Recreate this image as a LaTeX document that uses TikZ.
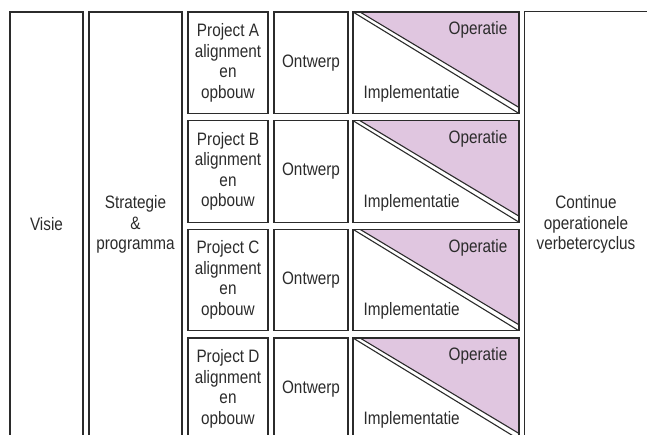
\documentclass[tikz,border=0pt]{standalone}
\usepackage{fontspec}
\setmainfont{Liberation Sans}[FakeStretch=0.85]
\usepackage{xcolor}
\definecolor{lijn}{HTML}{2B2B2B}
\definecolor{lila}{RGB}{224,198,224}
\newcommand{\celfont}{\fontsize{18}{20.5}\selectfont}

\begin{document}
\begin{tikzpicture}[x=1pt, y=-1pt,
    cel/.style={draw=lijn, line width=1.1pt, inner sep=0pt, align=center, font=\celfont, text=lijn},
    kolom/.style={cel, minimum height=425pt},
    rij/.style={cel, minimum height=101.5pt},
    tekst/.style={inner sep=0pt, font=\celfont, text=lijn},
    diag/.style={draw=lijn, line width=1.1pt},
    ops/.style={rij, minimum width=166pt, path picture={
        \fill[lila] ([xshift=7pt]path picture bounding box.north west) -- (path picture bounding box.north east)
            -- ([yshift=6pt]path picture bounding box.south east) -- cycle;
        \draw[diag] ([xshift=7pt]path picture bounding box.north west) -- ([yshift=6pt]path picture bounding box.south east);
        \draw[diag] (path picture bounding box.north west) -- (path picture bounding box.south east);
    }}]
%		    \draw[help lines] (0,0) grid (647,435);
			\useasboundingbox (0,0) rectangle (647,435);
			\clip (0,0) rectangle (647,435);
			\node[kolom, minimum width=73pt] (visie) at (46.5,224.5) {Visie};
			\node[kolom, minimum width=93pt] (strategie) at (135.5,224.5) {Strategie\\\&\\programma};
			\node[tekst, minimum width=122pt, minimum height=425pt, align=center] (cyclus) at (586,224.5) {Continue\\operationele\\verbetercyclus};
			\draw[diag] (cyclus.south west) -- (cyclus.north west) -- ([xshift=10pt]cyclus.north east);
			% project A
			\node[rij, minimum width=80pt] (projectA) at (228,62.75) {Project A\\alignment\\en\\opbouw};
			\node[rij, minimum width=74pt] (ontwerpA) at (311,62.75) {Ontwerp};
			\node[ops] (opsA) at (436,62.75) {};
			\node[tekst, anchor=north east] (operatieA) at ([xshift=-12pt,yshift=-10pt]opsA.north east) {Operatie};
			\node[tekst, anchor=base west] (implA) at ([xshift=11pt,yshift=15.5pt]opsA.south west) {Implementatie};
			% project B
			\node[rij, minimum width=80pt] (projectB) at (228,171.42) {Project B\\alignment\\en\\opbouw};
			\node[rij, minimum width=74pt] (ontwerpB) at (311,171.42) {Ontwerp};
			\node[ops] (opsB) at (436,171.42) {};
			\node[tekst, anchor=north east] (operatieB) at ([xshift=-12pt,yshift=-10pt]opsB.north east) {Operatie};
			\node[tekst, anchor=base west] (implB) at ([xshift=11pt,yshift=15.5pt]opsB.south west) {Implementatie};
			% project C
			\node[rij, minimum width=80pt] (projectC) at (228,280.08) {Project C\\alignment\\en\\opbouw};
			\node[rij, minimum width=74pt] (ontwerpC) at (311,280.08) {Ontwerp};
			\node[ops] (opsC) at (436,280.08) {};
			\node[tekst, anchor=north east] (operatieC) at ([xshift=-12pt,yshift=-10pt]opsC.north east) {Operatie};
			\node[tekst, anchor=base west] (implC) at ([xshift=11pt,yshift=15.5pt]opsC.south west) {Implementatie};
			% project D
			\node[rij, minimum width=80pt] (projectD) at (228,388.75) {Project D\\alignment\\en\\opbouw};
			\node[rij, minimum width=74pt] (ontwerpD) at (311,388.75) {Ontwerp};
			\node[ops] (opsD) at (436,388.75) {};
			\node[tekst, anchor=north east] (operatieD) at ([xshift=-12pt,yshift=-10pt]opsD.north east) {Operatie};
			\node[tekst, anchor=base west] (implD) at ([xshift=11pt,yshift=15.5pt]opsD.south west) {Implementatie};
\end{tikzpicture}
\end{document}
